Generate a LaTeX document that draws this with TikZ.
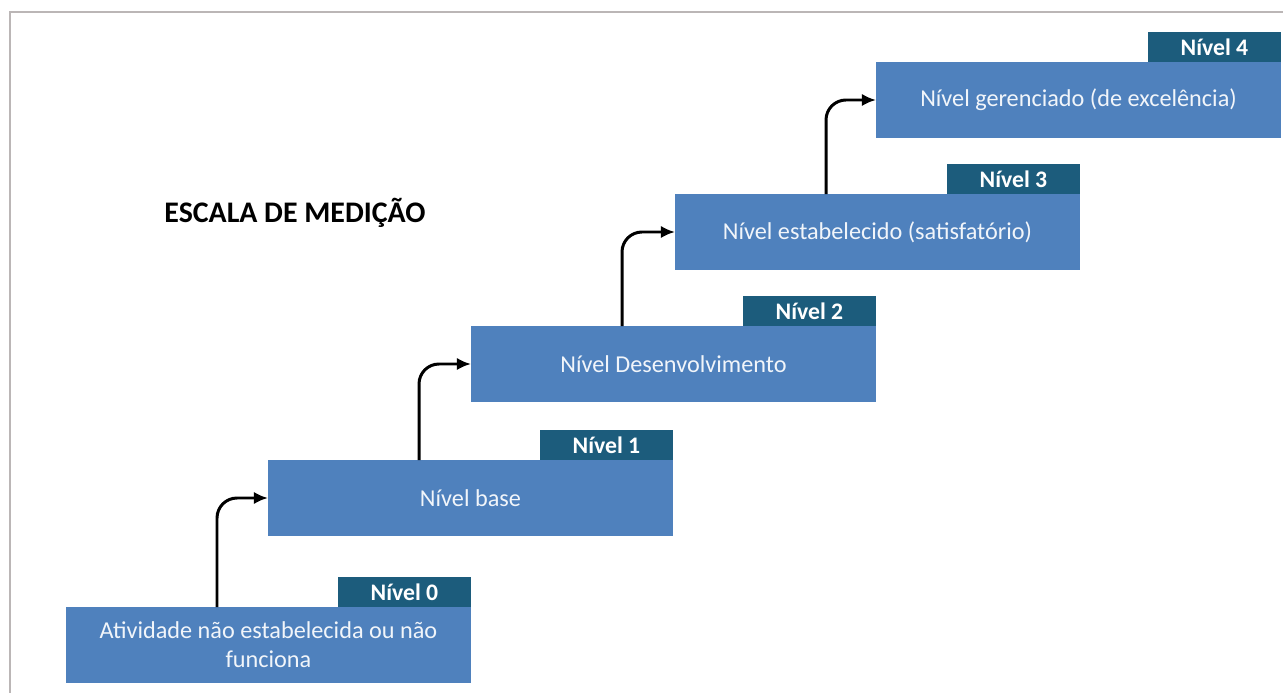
\documentclass[tikz,border=0pt]{standalone}
\usepackage{fontspec}
\setmainfont{Carlito}
\usetikzlibrary{arrows.meta,positioning,calc}
\definecolor{levelcolor}{RGB}{79,129,189}
\definecolor{tabcolor}{RGB}{28,92,124}
\definecolor{framecolor}{RGB}{187,182,182}

\begin{document}
\begin{tikzpicture}[
    x={(0.02cm,0cm)},
    y={(0cm,-0.02cm)},
    level/.style={fill=levelcolor, text=white!92!levelcolor, minimum width=8.1cm, minimum height=1.52cm,
        inner sep=0pt, outer sep=0pt, align=center, font=\fontsize{13.8}{16.5}\selectfont, anchor=north west},
    tab/.style={fill=tabcolor, text=white, minimum width=2.66cm, minimum height=0.6cm,
        inner sep=0pt, outer sep=0pt, font=\bfseries\fontsize{13.5}{15}\selectfont, anchor=south east},
    stepline/.style={line width=1.7pt, -{Latex[length=8pt,width=7pt]}, rounded corners=0.4cm}]

    \useasboundingbox (0,0) rectangle (1283,693);

    % Frame (only top and left edge show)
    \draw[framecolor, line width=1.6pt] (1283,12) -- (10,12) -- (10,693);

    % Title
    \node[font=\bfseries\fontsize{17}{20}\selectfont] (title) at (295,213) {ESCALA DE MEDIÇÃO};

    % Levels with their tabs
    \foreach \i/\x/\y/\txt in {0/66/607/{Atividade não estabelecida ou não\\funciona},
                               1/268/460/{Nível base},
                               2/471/326/{Nível Desenvolvimento},
                               3/675/194/{Nível estabelecido (satisfatório)},
                               4/876/62/{Nível gerenciado (de excelência)}} {
        \node[level] (b\i) at (\x,\y) {\txt};
        \node[tab] (t\i) at (b\i.north east) {Nível \i};
    }

    % Step arrows
    \foreach \i [evaluate=\i as \j using int(\i+1)] in {0,...,3} {
        \draw[stepline] ($(b\i.north west)+(151,0)$) |- (b\j.west);
    }
\end{tikzpicture}
\end{document}
